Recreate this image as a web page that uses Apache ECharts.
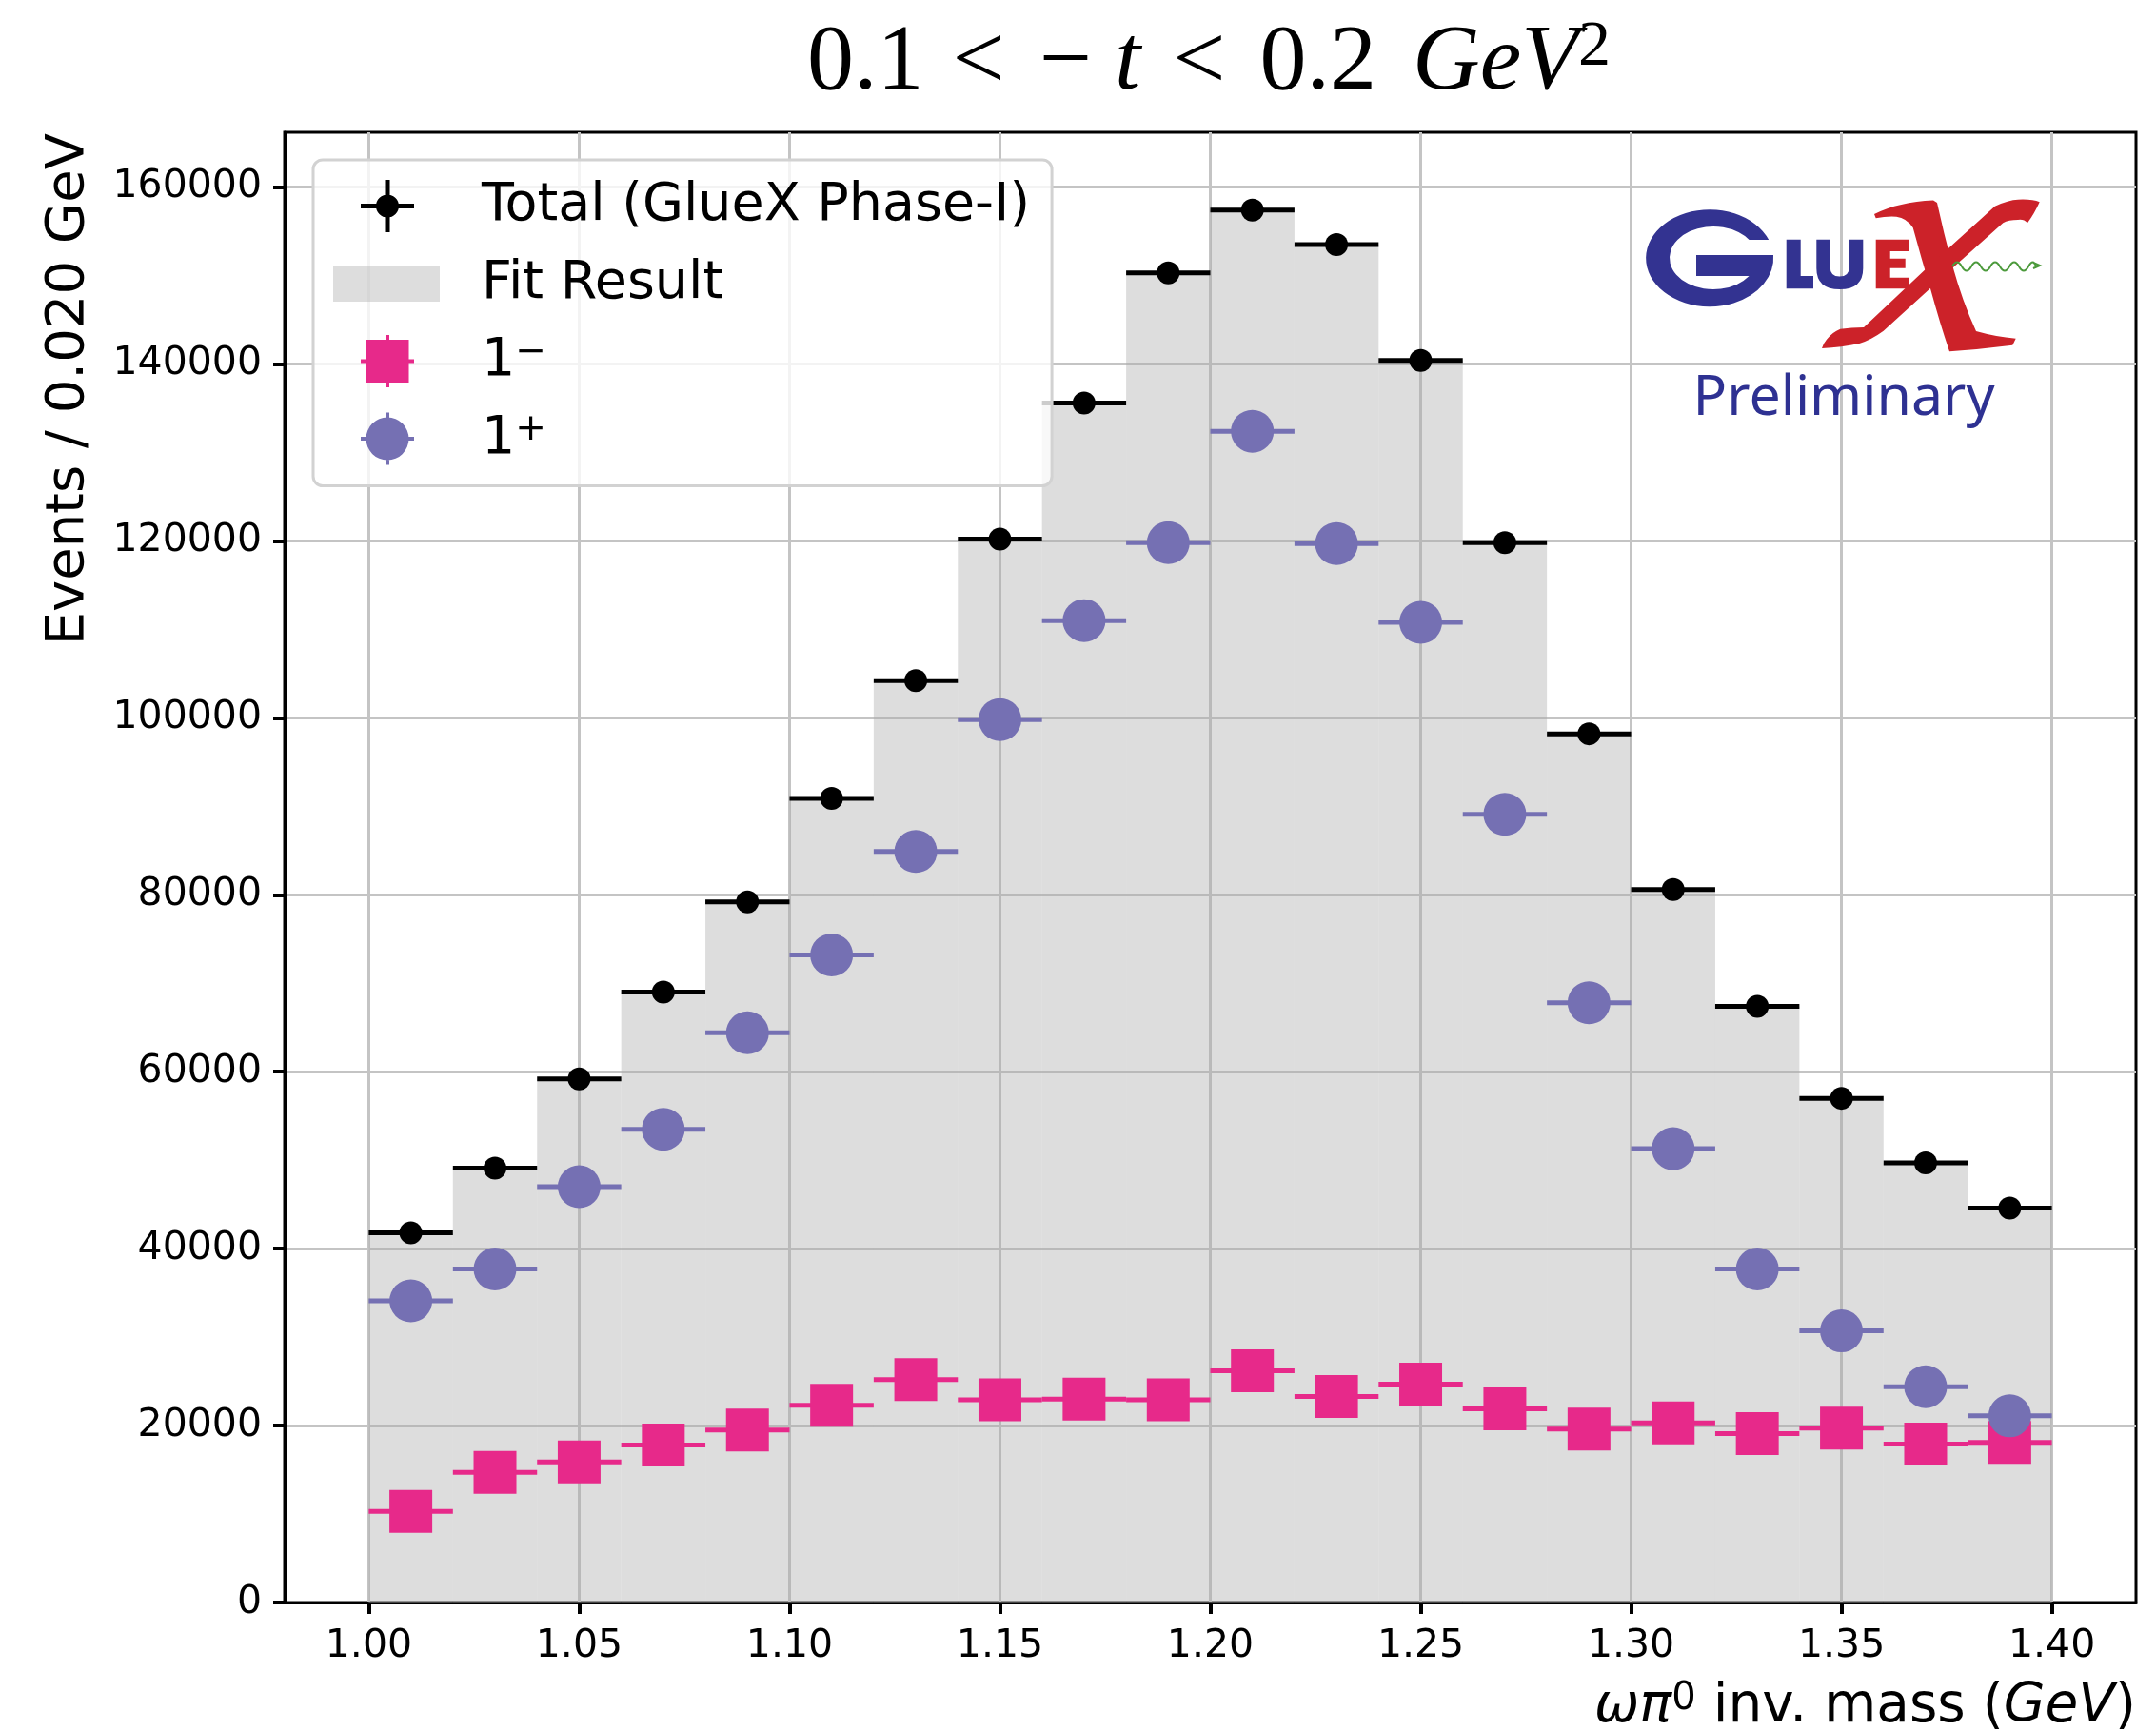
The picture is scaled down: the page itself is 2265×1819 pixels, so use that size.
<!DOCTYPE html>
<html>
<head>
<meta charset="utf-8">
<title>omega pi0 mass spectrum, 0.1 < -t < 0.2 GeV^2</title>
<script src="https://cdn.jsdelivr.net/npm/echarts@6/dist/echarts.min.js"></script>
<style>
  html, body { margin: 0; padding: 0; background: #ffffff; }
  #chart { width: 2265px; height: 1819px; }
</style>
</head>
<body>
<div id="chart"></div>
<script>
// ---- data: omega pi0 invariant mass, 20 bins of 0.020 GeV ----
const binCenters = [1.01, 1.03, 1.05, 1.07, 1.09, 1.11, 1.13, 1.15, 1.17, 1.19,
                    1.21, 1.23, 1.25, 1.27, 1.29, 1.31, 1.33, 1.35, 1.37, 1.39];
const totalEvents = [41800, 49100, 59200, 69000, 79200, 90900, 104200, 120200, 135600, 150300,
                     157400, 153500, 140400, 119800, 98200, 80600, 67400, 57000, 49700, 44600];
const fitResult = [41800, 49100, 59200, 69000, 79200, 90900, 104200, 120200, 135600, 150300,
                   157400, 153500, 140400, 119800, 98200, 80600, 67400, 57000, 49700, 44600];
const waveOneMinus = [10300, 14700, 15900, 17800, 19500, 22300, 25200, 22900, 23000, 22900,
                      26200, 23300, 24700, 21900, 19600, 20300, 19100, 19700, 17900, 18100];
const waveOnePlus = [34100, 37700, 47000, 53500, 64400, 73200, 84900, 99800, 111000, 119800,
                     132400, 119700, 110800, 89100, 67800, 51300, 37700, 30700, 24400, 21100];
const xTicks = [1.00, 1.05, 1.10, 1.15, 1.20, 1.25, 1.30, 1.35, 1.40];
const yTicks = [0, 20000, 40000, 60000, 80000, 100000, 120000, 140000, 160000];
const BIN_WIDTH = 0.020;

const SANS = 'DejaVu Sans';
const SERIF = 'Liberation Serif';
const BLACK = '#000000';
const PINK = '#e7298a';
const PURPLE = '#7570b3';
const FIT_FILL = 'rgba(170,170,170,0.4)';
const LOGO_BLUE = '#333391';
const LOGO_RED = '#cc2229';

const pairs = arr => binCenters.map((x, i) => [x, arr[i]]);

// histogram bar spanning one bin, from 0 to the fitted value
function binBar(params, api) {
  const x = api.value(0), y = api.value(1);
  const p0 = api.coord([x - BIN_WIDTH / 2, y]);
  const p1 = api.coord([x + BIN_WIDTH / 2, 0]);
  return {
    type: 'rect',
    shape: { x: p0[0], y: p0[1], width: p1[0] - p0[0], height: p1[1] - p0[1] },
    style: { fill: FIT_FILL }
  };
}

// marker with a horizontal bar covering the bin width
function binPoint(kind, color, size, lineWidth) {
  return function (params, api) {
    const x = api.value(0), y = api.value(1);
    const c = api.coord([x, y]);
    const l = api.coord([x - BIN_WIDTH / 2, y]);
    const r = api.coord([x + BIN_WIDTH / 2, y]);
    const children = [{
      type: 'line',
      shape: { x1: l[0], y1: l[1], x2: r[0], y2: r[1] },
      style: { stroke: color, lineWidth: lineWidth }
    }];
    if (kind === 'square') {
      children.push({ type: 'rect',
        shape: { x: c[0] - size / 2, y: c[1] - size / 2, width: size, height: size },
        style: { fill: color } });
    } else {
      children.push({ type: 'circle',
        shape: { cx: c[0], cy: c[1], r: size / 2 },
        style: { fill: color } });
    }
    return { type: 'group', children: children };
  };
}

// experiment logo in the upper right corner of the plot
function drawLogo() {
  const fillPath = (d, fill) => ({ type: 'path', shape: { pathData: d }, style: { fill: fill } });
  return {
    type: 'group',
    children: [
      fillPath('M1858.2 252A67 51 0 1 0 1863 268L1782 268L1782 290L1837.6 290A46 33 0 1 1 1837.6 252Z', LOGO_BLUE),
      fillPath('M1876.7 251.7H1891.7V290H1905V303.3H1876.7Z', LOGO_BLUE),
      fillPath('M1908.3 251.7H1922.7V281Q1922.7 290.5 1932.5 290.5Q1942.7 290.5 1942.7 281V251.7H1957.3V282Q1957.3 304 1932.8 304Q1908.3 304 1908.3 282Z', LOGO_BLUE),
      fillPath('M1970.7 251.7H2005V264H1985.7V271.7H2001.7V281.7H1985.7V291.7H2005V303.3H1970.7Z', LOGO_RED),
      fillPath('M1969 225Q1995 212 2031 210.5L2035 213Q2042 245 2050.5 276.7Q2062 318 2076 348Q2097 354 2117.7 355.7L2114.3 362.7Q2080 367 2048 369.3Q2038 340 2028 303.3Q2018 270 2009.7 239.3Q2003 229 1992.3 227.7Q1982 227 1970.7 229.3Z', LOGO_RED),
      fillPath('M2095.7 216.7Q2110 210 2120 209.7Q2135 209 2142.7 212.3Q2137 225 2130 234.3Q2126 230 2120 231Q2110 231 2104.3 234.3L2052 281L1978.7 347.7Q1966 357 1953.3 361Q1935 365 1914 366Q1916 360 1919 356.7Q1925 349 1933.3 345.7Q1945 344 1958 344L2027 279L2082.3 229Z', LOGO_RED),
      { type: 'path',
        shape: { pathData: 'M2051 280q5 -9 10 0t10 0t10 0t10 0t10 0t10 0t10 0t10 0t8 0 M2136 276L2143 279L2136 282' },
        style: { fill: 'none', stroke: '#4c9a3c', lineWidth: 2 } },
      { type: 'text', x: 1937, y: 419,
        style: { text: 'Preliminary', align: 'center', verticalAlign: 'middle',
                 fontFamily: 'Noto Sans', fontSize: 59, fill: '#2e3192' } }
    ]
  };
}

// legend icons, all sharing a 151 x 57 box
const BOX = 'M0 0M151 57';
const iconTotal = 'path://' + BOX +
  'M29 26H85V31H29Z M54.5 1H59.5V56H54.5Z M45 28.5A12 12 0 1 1 69 28.5A12 12 0 1 1 45 28.5Z';
const iconFit = 'path://' + BOX + 'M0 9.5H112V47.5H0Z';
const iconMinus = 'path://' + BOX +
  'M34.5 6H79.5V51H34.5Z M29 26.5H85V30.5H29Z M55 1H59V56H55Z';
const iconPlus = 'path://' + BOX +
  'M34.5 28.5A22.5 22.5 0 1 1 79.5 28.5A22.5 22.5 0 1 1 34.5 28.5Z M29 26.5H85V30.5H29Z M55 1H59V56H55Z';

const legendText = {
  'Total (GlueX Phase-I)': '{b|Total (GlueX Phase-I)}',
  'Fit Result': '{b|Fit Result}',
  '1-': '{b|1}{sup|\u2212}',
  '1+': '{b|1}{sup|+}'
};

const chart = echarts.init(document.getElementById('chart'), null, { renderer: 'canvas' });

chart.setOption({
  animation: false,
  backgroundColor: '#ffffff',
  grid: {
    left: 299, right: 21, top: 139, bottom: 135,
    show: true, borderColor: BLACK, borderWidth: 3, backgroundColor: 'transparent'
  },
  xAxis: {
    type: 'value', min: 0.98, max: 1.42,
    axisLine: { show: true, onZero: false, lineStyle: { color: BLACK, width: 3 } },
    axisTick: { show: true, length: 12, customValues: xTicks, lineStyle: { color: BLACK, width: 4 } },
    axisLabel: {
      customValues: xTicks, margin: 26,
      fontFamily: SANS, fontSize: 41, color: BLACK,
      formatter: v => v.toFixed(2)
    },
    splitLine: { show: true, lineStyle: { color: '#c4c4c4', width: 3 } }
  },
  yAxis: {
    type: 'value', min: 0, max: 166200,
    axisLine: { show: true, lineStyle: { color: BLACK, width: 3 } },
    axisTick: { show: true, length: 12, customValues: yTicks, lineStyle: { color: BLACK, width: 4 } },
    axisLabel: {
      customValues: yTicks, margin: 24,
      fontFamily: SANS, fontSize: 41, color: BLACK,
      formatter: v => String(v)
    },
    splitLine: { show: true, lineStyle: { color: '#c4c4c4', width: 3 } }
  },
  legend: {
    left: 329, top: 168, orient: 'vertical',
    selectedMode: false,
    itemWidth: 151, itemHeight: 57, itemGap: 24.5,
    symbolKeepAspect: true,
    padding: [20, 23, 21, 21],
    backgroundColor: 'rgba(255,255,255,0.8)',
    borderColor: '#d2d2d2', borderWidth: 3, borderRadius: 10,
    data: [
      { name: 'Total (GlueX Phase-I)', icon: iconTotal },
      { name: 'Fit Result', icon: iconFit },
      { name: '1-', icon: iconMinus },
      { name: '1+', icon: iconPlus }
    ],
    formatter: name => legendText[name],
    textStyle: {
      fontFamily: SANS, fontSize: 55.5, color: BLACK, lineHeight: 57,
      rich: {
        b: { fontFamily: SANS, fontSize: 55.5, color: BLACK, lineHeight: 57, verticalAlign: 'bottom' },
        sup: { fontFamily: SANS, fontSize: 39, color: BLACK, lineHeight: 30, verticalAlign: 'top' }
      }
    }
  },
  series: [
    { type: 'custom', name: 'Fit Result', renderItem: binBar,
      itemStyle: { color: FIT_FILL }, data: pairs(fitResult), z: 2 },
    { type: 'custom', name: 'Total (GlueX Phase-I)', renderItem: binPoint('circle', BLACK, 24, 5),
      itemStyle: { color: BLACK }, data: pairs(totalEvents), z: 3 },
    { type: 'custom', name: '1-', renderItem: binPoint('square', PINK, 45, 5),
      itemStyle: { color: PINK }, data: pairs(waveOneMinus), z: 3 },
    { type: 'custom', name: '1+', renderItem: binPoint('circle', PURPLE, 45, 5),
      itemStyle: { color: PURPLE }, data: pairs(waveOnePlus), z: 3 },
    { type: 'custom', name: 'logo', coordinateSystem: 'none', silent: true,
      renderItem: drawLogo, data: [0], z: 4 }
  ],
  graphic: [
    // title
    {
      type: 'text', x: 1270, y: 66, z: 10,
      style: {
        text: '{n|0.1}{r|<}{m|\u2212}{t|t}{r|<}{n|0.2}{i|GeV}{s|2}',
        align: 'center', verticalAlign: 'middle',
        rich: {
          n: { fontFamily: SERIF, fontSize: 98, fill: BLACK, lineHeight: 100, verticalAlign: 'bottom' },
          r: { fontFamily: SERIF, fontSize: 98, fill: BLACK, lineHeight: 100, verticalAlign: 'bottom', padding: [0, 36, 0, 30] },
          m: { fontFamily: SERIF, fontSize: 98, fill: BLACK, lineHeight: 100, verticalAlign: 'bottom', padding: [0, 24, 0, 0] },
          t: { fontFamily: SERIF, fontStyle: 'italic', fontSize: 98, fill: BLACK, lineHeight: 100, verticalAlign: 'bottom', padding: [0, 4, 0, 0] },
          i: { fontFamily: SERIF, fontStyle: 'italic', fontSize: 98, fill: BLACK, lineHeight: 100, verticalAlign: 'bottom', padding: [0, 0, 0, 38] },
          s: { fontFamily: SERIF, fontSize: 68, fill: BLACK, lineHeight: 46, verticalAlign: 'top' }
        }
      }
    },
    // y axis name
    {
      type: 'text', x: 72, y: 140, rotation: Math.PI / 2, z: 10,
      style: {
        text: 'Events / 0.020 GeV', align: 'right', verticalAlign: 'middle',
        fontFamily: SANS, fontSize: 56, fill: BLACK
      }
    },
    // x axis name
    {
      type: 'text', x: 2244, y: 1794, z: 10,
      style: {
        text: '{m|\u03c9\u03c0}{s|0}{n| inv. mass (}{m|GeV}{n|)}',
        align: 'right', verticalAlign: 'middle',
        rich: {
          m: { fontFamily: SANS, fontStyle: 'italic', fontSize: 56.5, fill: BLACK, lineHeight: 57, verticalAlign: 'bottom' },
          n: { fontFamily: SANS, fontSize: 56.5, fill: BLACK, lineHeight: 57, verticalAlign: 'bottom' },
          s: { fontFamily: SANS, fontSize: 40, fill: BLACK, lineHeight: 28, verticalAlign: 'top' }
        }
      }
    }
  ]
});
</script>
</body>
</html>
